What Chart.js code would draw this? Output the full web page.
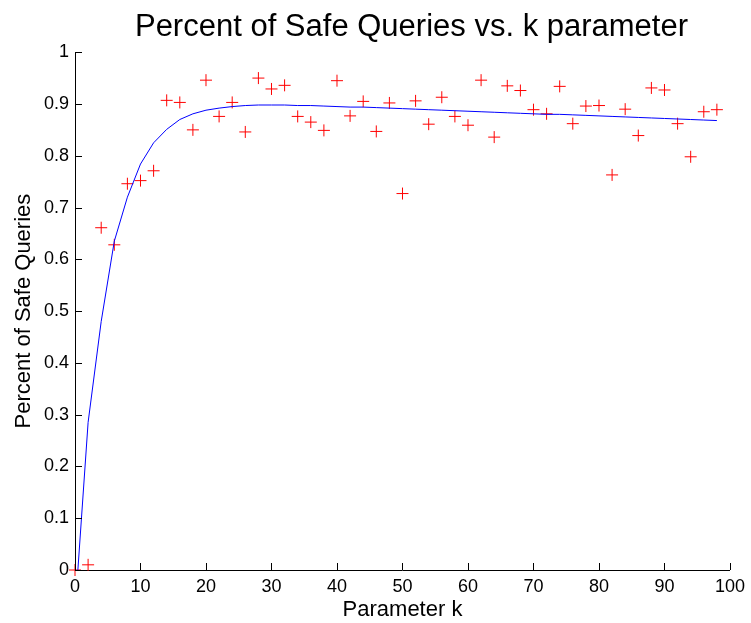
<!DOCTYPE html>
<html>
<head>
<meta charset="utf-8">
<script src="https://cdn.jsdelivr.net/npm/chart.js@4/dist/chart.umd.min.js"></script>
<style>
  html, body { margin: 0; padding: 0; background: #fff; }
  canvas { display: block; }
</style>
</head>
<body>
<canvas id="c" width="751" height="623"></canvas>
<script>
// ---- Data ----
const kValues = [0,2,4,6,8,10,12,14,16,18,20,22,24,26,28,30,32,34,36,38,40,42,44,46,48,
                 50,52,54,56,58,60,62,64,66,68,70,72,74,76,78,80,82,84,86,88,90,92,94,96,98];
const safeQueries = [0.000,0.010,0.661,0.628,0.746,0.752,0.771,0.907,0.903,0.850,
                     0.946,0.876,0.903,0.846,0.950,0.929,0.936,0.876,0.865,0.849,
                     0.945,0.877,0.905,0.847,0.902,0.727,0.906,0.861,0.913,0.876,
                     0.859,0.946,0.836,0.935,0.926,0.889,0.881,0.934,0.862,0.896,
                     0.897,0.763,0.890,0.839,0.931,0.927,0.862,0.798,0.885,0.889];
const fitCurve = [-0.080,0.285,0.480,0.635,0.720,0.784,0.825,0.851,0.870,0.881,
                  0.888,0.892,0.895,0.897,0.898,0.898,0.898,0.897,0.897,0.896,
                  0.895,0.894,0.894,0.893,0.892,0.891,0.890,0.889,0.888,0.887,
                  0.886,0.885,0.884,0.883,0.882,0.881,0.880,0.880,0.879,0.878,
                  0.877,0.876,0.875,0.874,0.873,0.872,0.871,0.870,0.869,0.868];
const xTickLabels = [0,10,20,30,40,50,60,70,80,90,100];
const yTickLabels = [0,0.1,0.2,0.3,0.4,0.5,0.6,0.7,0.8,0.9,1];

const FONT = "'Liberation Sans', Arial, Helvetica, sans-serif";

const inwardTicks = {
  id: 'inwardTicks',
  afterLayout(chart) {
    if (chart.titleBlock) {
      chart.titleBlock.left += 9;
      chart.titleBlock.right += 9;
    }
  },
  afterDraw(chart) {
    const ctx = chart.ctx;
    const xs = chart.scales.x, ys = chart.scales.y;
    const area = chart.chartArea;
    ctx.save();
    ctx.strokeStyle = '#000';
    ctx.lineWidth = 1;
    ctx.beginPath();
    xTickLabels.forEach(v => {
      const px = Math.round(xs.getPixelForValue(v)) + 0.5;
      ctx.moveTo(px, area.bottom);
      ctx.lineTo(px, area.bottom - 7);
    });
    yTickLabels.forEach(v => {
      const py = Math.round(ys.getPixelForValue(v)) + 0.5;
      ctx.moveTo(area.left, py);
      ctx.lineTo(area.left + 7, py);
    });
    ctx.stroke();
    ctx.restore();
  }
};

new Chart(document.getElementById('c'), {
  type: 'scatter',
  data: {
    datasets: [
      {
        label: 'fit',
        type: 'line',
        data: kValues.map((k, i) => ({ x: k, y: fitCurve[i] })),
        borderColor: '#0000ff',
        borderWidth: 1,
        pointRadius: 0,
        fill: false,
        tension: 0,
        showLine: true
      },
      {
        label: 'safe',
        data: kValues.map((k, i) => ({ x: k, y: safeQueries[i] })),
        pointStyle: 'cross',
        pointRadius: 6,
        pointBorderWidth: 1,
        borderColor: '#ff0000',
        backgroundColor: '#ff0000',
        showLine: false,
        clip: false
      }
    ]
  },
  options: {
    responsive: false,
    animation: false,
    layout: { padding: { left: 0, right: 19, top: 0, bottom: 0 } },
    plugins: {
      legend: { display: false },
      tooltip: { enabled: false },
      title: {
        display: true,
        fullSize: false,
        text: 'Percent of Safe Queries vs. k parameter',
        color: '#000',
        font: { family: FONT, size: 31, weight: 'normal' },
        padding: { top: 9, bottom: 6 }
      }
    },
    scales: {
      x: {
        type: 'linear',
        min: 0, max: 100,
        afterBuildTicks: s => { s.ticks = xTickLabels.map(v => ({ value: v })); },
        afterFit: s => { s.height = 53; },
        ticks: {
          color: '#000',
          font: { family: FONT, size: 18 },
          padding: 6,
          maxRotation: 0,
          callback: v => String(v)
        },
        grid: { display: true, drawOnChartArea: false, drawTicks: false },
        border: { display: true, color: '#000', width: 1 },
        title: {
          display: true,
          text: 'Parameter k',
          color: '#000',
          font: { family: FONT, size: 22 },
          padding: { top: 0, bottom: 0 }
        }
      },
      y: {
        type: 'linear',
        min: 0, max: 1,
        afterBuildTicks: s => { s.ticks = yTickLabels.map(v => ({ value: v })); },
        afterFit: s => { s.width = 75; },
        ticks: {
          color: '#000',
          font: { family: FONT, size: 18 },
          padding: 6,
          callback: v => String(+v.toFixed(1))
        },
        grid: { display: true, drawOnChartArea: false, drawTicks: false },
        border: { display: true, color: '#000', width: 1 },
        title: {
          display: true,
          text: 'Percent of Safe Queries',
          color: '#000',
          font: { family: FONT, size: 22 },
          padding: { top: 11, bottom: 0 }
        }
      }
    }
  },
  plugins: [inwardTicks]
});
</script>
</body>
</html>
